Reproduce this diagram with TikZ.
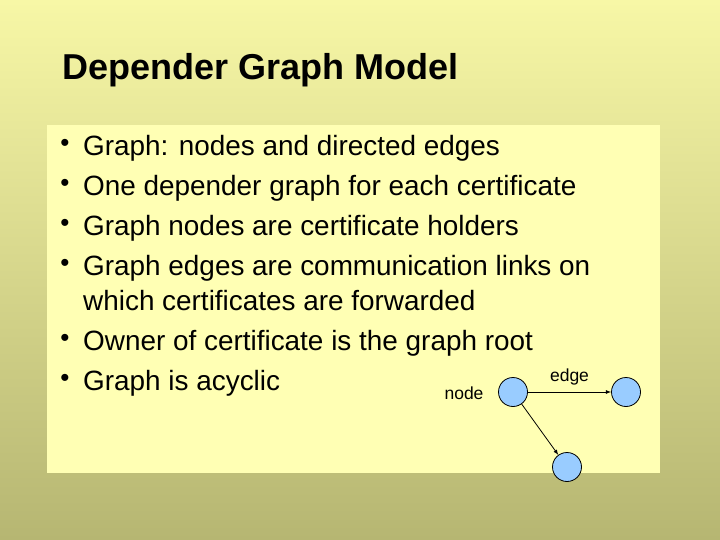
\documentclass[tikz,border=0pt]{standalone}
\usepackage{fontspec}
\setmainfont{Liberation Sans}
\begin{document}
\begin{tikzpicture}[x=1pt,y=-1pt,
  txt/.style={anchor=west,font=\fontsize{27.9}{30}\selectfont,inner sep=0pt},
  bul/.style={anchor=center,font=\fontsize{26}{30}\selectfont,inner sep=0pt},
  gn/.style={circle,draw=black,fill=gnfill,minimum size=29pt,inner sep=0pt,line width=0.8pt},
  lbl/.style={font=\fontsize{17.5}{20}\selectfont,inner sep=0pt},
  arr/.style={-latex,line width=0.8pt}]
\definecolor{bgtop}{HTML}{F7F7A6}
\definecolor{bgbot}{HTML}{B6B672}
\definecolor{panel}{HTML}{FFFFB4}
\definecolor{gnfill}{HTML}{99CCFF}
\shade[top color=bgtop,bottom color=bgbot] (0,0) rectangle (720,540);
\useasboundingbox (0,0) rectangle (720,540);
\fill[panel] (47,125) rectangle (660,473);
\node[anchor=west,font=\bfseries\fontsize{36}{40}\selectfont,inner sep=0pt] (title) at (62,70) {Depender Graph Model};
\foreach \y/\t in {148/{Graph: nodes and directed edges},188/{One depender graph for each certificate},228/{Graph nodes are certificate holders},268/{Graph edges are communication links on},343/{Owner of certificate is the graph root},383/{Graph is acyclic}}{
  \node[bul] at (65,\y-3) {•};
  \node[txt] at (83,\y) {\t};
}
\node[txt] (l4b) at (83,301) {which certificates are forwarded};
\node[gn] (a) at (513,392) {};
\node[gn] (b) at (626,392) {};
\node[gn] (c) at (567,467) {};
\node[lbl] (nl) at (464,393) {node};
\draw[arr] (a) -- (b) node[midway,above=6pt,lbl] {edge};
\draw[arr] (a) -- (c);
\end{tikzpicture}
\end{document}
